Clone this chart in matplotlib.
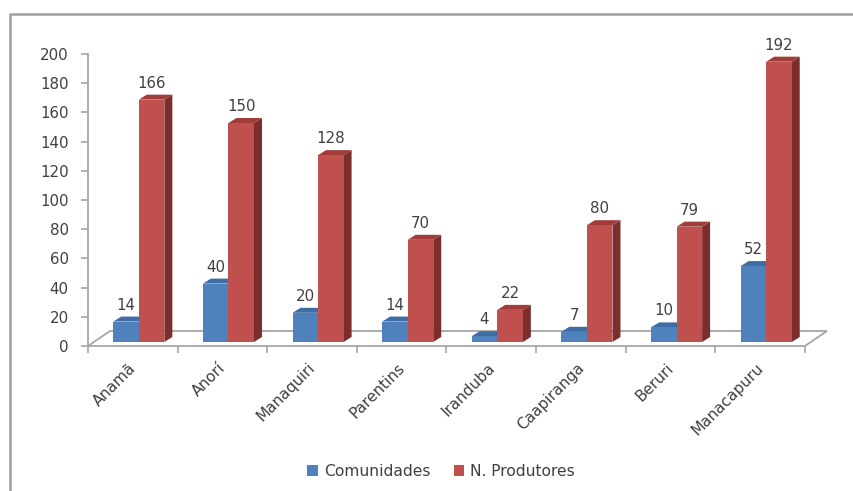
import matplotlib
matplotlib.use("Agg")
import matplotlib.pyplot as plt
from matplotlib.patches import Polygon, Patch
from matplotlib.lines import Line2D
import matplotlib.transforms as mtrans

categories = ["Anamã", "Anorí", "Manaquiri", "Parentins", "Iranduba", "Caapiranga", "Beruri", "Manacapuru"]
comunidades = [14, 40, 20, 14, 4, 7, 10, 52]
produtores = [166, 150, 128, 70, 22, 80, 79, 192]
series_names = ["Comunidades", "N. Produtores"]
yticks = [0, 20, 40, 60, 80, 100, 120, 140, 160, 180, 200]

W, H = 854, 491
plt.rcParams['font.family'] = ['DejaVu Sans']
fig = plt.figure(figsize=(W / 100, H / 100), dpi=100)

x0, x1 = 88, 805
y0, y1 = 346, 54
ax = fig.add_axes([x0 / W, 1 - y0 / H, (x1 - x0) / W, (y0 - y1) / H])
n = len(categories)
ax.set_xlim(0, n)
ax.set_ylim(0, 200)

pxx = (x1 - x0) / n      # pixels per x unit
pxy = (y0 - y1) / 200.0  # pixels per y unit

def dx(p):
    return p / pxx

def dy(p):
    return p / pxy

txtc = '#404040'
gridc = '#a6a6a6'

# floor (3D)
fdx, fdy = dx(22), dy(15)
floor = Polygon([(0, 0), (n, 0), (n + fdx, fdy), (fdx, fdy)], closed=True,
                facecolor='white', edgecolor=gridc, lw=1.3, clip_on=False, zorder=1)
ax.add_patch(floor)

# bars
w = 0.285
ox, oy = dx(6), dy(4)
ddx, ddy = dx(8), dy(5)
styles = [
    dict(front='#4F81BD', side='#35598A', top='#3F6CA3'),
    dict(front='#C0504D', side='#7C2E2C', top='#A03D3A'),
]
for s, vals in enumerate([comunidades, produtores]):
    st = styles[s]
    for i, v in enumerate(vals):
        xl = i + 0.5 - w + s * w + ox
        xr = xl + w
        b = oy
        zb = 3 + s * 3
        ax.bar(xl, v, width=w, bottom=b, align='edge', color=st['front'],
               zorder=zb + 1, clip_on=False, lw=0)
        ax.add_patch(Polygon([(xr, b), (xr + ddx, b + ddy), (xr + ddx, b + v + ddy), (xr, b + v)],
                             closed=True, facecolor=st['side'], lw=0, zorder=zb, clip_on=False))
        ax.add_patch(Polygon([(xl, b + v), (xl + ddx, b + v + ddy), (xr + ddx, b + v + ddy), (xr, b + v)],
                             closed=True, facecolor=st['top'], lw=0, zorder=zb, clip_on=False))
        ax.annotate(str(v), xy=(xl + w / 2, b + v), xytext=(0, 9), textcoords='offset pixels',
                    ha='center', va='bottom', fontsize=10.8, color=txtc, zorder=20)

# axes styling
for sp in ['top', 'right', 'bottom']:
    ax.spines[sp].set_visible(False)
ax.spines['left'].set_color(gridc)
ax.spines['left'].set_linewidth(1.3)
ax.set_yticks(yticks)
ax.tick_params(axis='y', length=5, width=1.2, color=gridc, pad=9, labelsize=10.8, labelcolor=txtc)

ax.set_xticks([i + 0.5 for i in range(n)])
ax.set_xticklabels(categories)
ax.set_xticks(list(range(n + 1)), minor=True)
ax.tick_params(axis='x', which='minor', length=5, width=1.2, color=gridc)
ax.tick_params(axis='x', which='major', length=0, pad=14, labelsize=11, labelcolor=txtc)
for lab in ax.get_xticklabels():
    lab.set_rotation(45)
    lab.set_ha('right')
    lab.set_va('center')
    lab.set_rotation_mode('anchor')
    lab.set_transform(lab.get_transform() + mtrans.ScaledTranslation(1 / 100, 0, fig.dpi_scale_trans))

# legend
handles = [Patch(facecolor=styles[0]['front']), Patch(facecolor=styles[1]['front'])]
fig.legend(handles, series_names, loc='center', bbox_to_anchor=(441 / W, 1 - 471 / H),
           ncol=2, frameon=False, handlelength=0.7, handleheight=0.7, handletextpad=0.35,
           columnspacing=1.5, fontsize=11.2, labelcolor=txtc)

# outer frame (left and top visible)
fig.add_artist(Line2D([10 / W, 10 / W, 1], [0, 1 - 14 / H, 1 - 14 / H],
                      transform=fig.transFigure, color='#a0a0a0', lw=1.8))

fig.savefig('out.png', dpi=100)
